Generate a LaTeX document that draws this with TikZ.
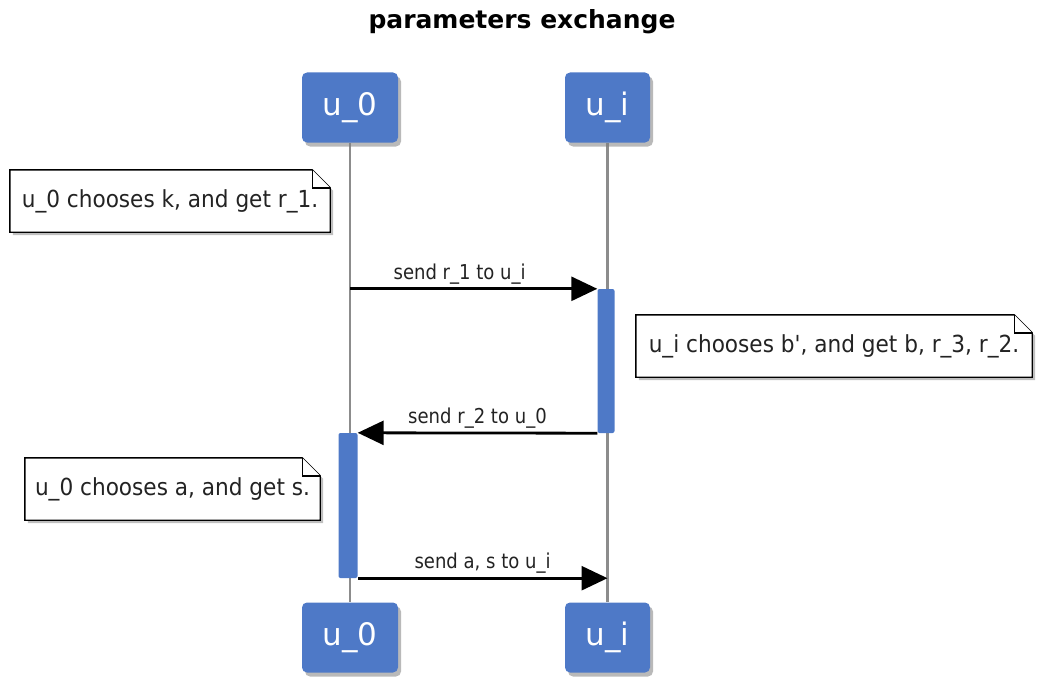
\documentclass[tikz,border=0pt]{standalone}
\usepackage{fontspec}
\setmainfont{DejaVu Sans}
\newfontfamily\notefont[FakeStretch=0.92]{DejaVu Sans}
\newfontfamily\labelfont[FakeStretch=0.88]{DejaVu Sans}
\usetikzlibrary{arrows.meta,calc,shadows}

\definecolor{partblue}{RGB}{78,121,199}
\definecolor{lifegray}{RGB}{140,140,140}
\definecolor{inkgray}{RGB}{35,35,35}

\pgfdeclarelayer{background}
\pgfsetlayers{background,main}

\tikzset{
  participant/.style={fill=partblue, rounded corners=5pt, minimum width=96pt, minimum height=70pt,
    text=white, font=\fontsize{31}{36}\selectfont,
    drop shadow={shadow xshift=3pt, shadow yshift=-4pt, opacity=0.55}},
  lifeline/.style={lifegray, line width=2.5pt},
  activation/.style={fill=partblue, rounded corners=2pt, minimum width=17pt, inner sep=0pt},
  message/.style={line width=2.8pt, -{Triangle[length=26pt,width=24pt]}},
  msglabel/.style={font=\labelfont\fontsize{20.5}{24}\selectfont, text=inkgray, inner sep=3pt},
  notetext/.style={font=\notefont\fontsize{23.5}{27}\selectfont, minimum height=62pt, text=inkgray},
  noteline/.style={line width=1.4pt, fill=white},
}

% folded note drawn behind a named node
\newcommand{\notebox}[1]{%
  \begin{pgfonlayer}{background}
    \draw[noteline, drop shadow={shadow xshift=3pt, shadow yshift=-3pt, opacity=0.5}]
      (#1.north west) -- ($(#1.north east)+(-18pt,0)$) -- ($(#1.north east)+(0,-18pt)$)
      -- (#1.south east) -- (#1.south west) -- cycle;
    \draw[noteline] ($(#1.north east)+(-18pt,0)$) |- ($(#1.north east)+(0,-18pt)$);
  \end{pgfonlayer}}

\begin{document}
\begin{tikzpicture}[x=1pt, y=-1pt]
    \useasboundingbox (0,0) rectangle (1037,677);

    % Title
    \node[font=\bfseries\fontsize{25}{30}\selectfont] (title) at (522,22) {parameters exchange};

    % Participants, top and bottom
    \node[participant] (t0) at (350,107.5) {u\_0};
    \node[participant, minimum width=85pt] (ti) at (607.5,107.5) {u\_i};
    \node[participant] (b0) at (350,637.5) {u\_0};
    \node[participant, minimum width=85pt] (bi) at (607.5,637.5) {u\_i};

    % Lifelines
    \begin{pgfonlayer}{background}
      \draw[lifeline] (t0) -- (b0);
      \draw[lifeline] (ti) -- (bi);
    \end{pgfonlayer}

    % Activation bars
    \node[activation, minimum height=144pt] (act1) at (606,361) {};
    \node[activation, minimum width=19pt, minimum height=145pt] (act0) at (348,505.5) {};

    % Notes
    \node[notetext, minimum width=320pt] (n1) at (170,201) {u\_0 chooses k, and get r\_1.};
    \notebox{n1}
    \node[notetext, minimum width=396pt] (n2) at (834,346) {u\_i chooses b', and get b, r\_3, r\_2.};
    \notebox{n2}
    \node[notetext, minimum width=295pt] (n3) at (172.5,489) {u\_0 chooses a, and get s.};
    \notebox{n3}

    % Messages
    \draw[message] (t0 |- act1.north) -- node[msglabel, above, xshift=-14pt] {send r\_1 to u\_i} (act1.north west);
    \draw[message] (act1.south west) -- node[msglabel, above] {send r\_2 to u\_0} (act0.north east);
    \draw[message] (act0.south east) -- node[msglabel, above] {send a, s to u\_i} (ti |- act0.south);

\end{tikzpicture}
\end{document}
